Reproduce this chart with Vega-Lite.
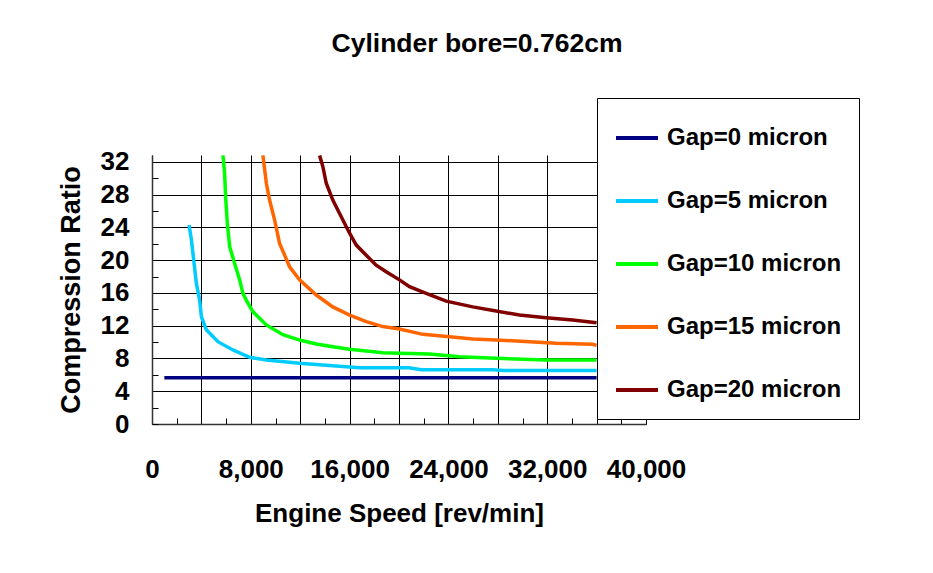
{
  "$schema": "https://vega.github.io/schema/vega-lite/v6.json",
  "autosize": {"type": "none"},
  "padding": {"left": 152, "top": 155, "right": 287, "bottom": 149},
  "width": 494,
  "height": 269,
  "background": "white",
  "title": {
    "text": "Cylinder bore=0.762cm",
    "font": "Liberation Sans",
    "fontSize": 26.5,
    "fontWeight": "bold",
    "color": "black",
    "frame": "group",
    "anchor": "middle",
    "dx": 78,
    "baseline": "alphabetic",
    "offset": 19
  },
  "config": {
    "view": {"stroke": null},
    "font": "Liberation Sans"
  },
  "data": {
    "values": [
      {"gap": "Gap=0 micron", "speed": 1000, "cr": 5.65},
      {"gap": "Gap=0 micron", "speed": 36000, "cr": 5.65},

      {"gap": "Gap=5 micron", "speed": 3000, "cr": 24.3},
      {"gap": "Gap=5 micron", "speed": 3190, "cr": 22.5},
      {"gap": "Gap=5 micron", "speed": 3590, "cr": 17.2},
      {"gap": "Gap=5 micron", "speed": 3860, "cr": 15.1},
      {"gap": "Gap=5 micron", "speed": 4000, "cr": 13.1},
      {"gap": "Gap=5 micron", "speed": 4400, "cr": 11.5},
      {"gap": "Gap=5 micron", "speed": 5340, "cr": 10.05},
      {"gap": "Gap=5 micron", "speed": 6550, "cr": 9.04},
      {"gap": "Gap=5 micron", "speed": 7900, "cr": 8.14},
      {"gap": "Gap=5 micron", "speed": 9260, "cr": 7.81},
      {"gap": "Gap=5 micron", "speed": 11950, "cr": 7.41},
      {"gap": "Gap=5 micron", "speed": 14640, "cr": 7.12},
      {"gap": "Gap=5 micron", "speed": 16800, "cr": 6.88},
      {"gap": "Gap=5 micron", "speed": 20800, "cr": 6.88},
      {"gap": "Gap=5 micron", "speed": 21800, "cr": 6.62},
      {"gap": "Gap=5 micron", "speed": 27600, "cr": 6.62},
      {"gap": "Gap=5 micron", "speed": 28500, "cr": 6.52},
      {"gap": "Gap=5 micron", "speed": 36000, "cr": 6.52},

      {"gap": "Gap=10 micron", "speed": 5745, "cr": 32.8},
      {"gap": "Gap=10 micron", "speed": 5880, "cr": 30.6},
      {"gap": "Gap=10 micron", "speed": 5960, "cr": 27.75},
      {"gap": "Gap=10 micron", "speed": 6100, "cr": 24.5},
      {"gap": "Gap=10 micron", "speed": 6290, "cr": 21.65},
      {"gap": "Gap=10 micron", "speed": 6690, "cr": 19.6},
      {"gap": "Gap=10 micron", "speed": 7100, "cr": 17.6},
      {"gap": "Gap=10 micron", "speed": 7360, "cr": 15.95},
      {"gap": "Gap=10 micron", "speed": 7640, "cr": 15.1},
      {"gap": "Gap=10 micron", "speed": 8180, "cr": 13.7},
      {"gap": "Gap=10 micron", "speed": 9260, "cr": 12.1},
      {"gap": "Gap=10 micron", "speed": 10600, "cr": 10.9},
      {"gap": "Gap=10 micron", "speed": 11950, "cr": 10.25},
      {"gap": "Gap=10 micron", "speed": 13300, "cr": 9.77},
      {"gap": "Gap=10 micron", "speed": 14640, "cr": 9.44},
      {"gap": "Gap=10 micron", "speed": 16000, "cr": 9.12},
      {"gap": "Gap=10 micron", "speed": 17350, "cr": 8.91},
      {"gap": "Gap=10 micron", "speed": 18700, "cr": 8.71},
      {"gap": "Gap=10 micron", "speed": 20040, "cr": 8.65},
      {"gap": "Gap=10 micron", "speed": 22470, "cr": 8.55},
      {"gap": "Gap=10 micron", "speed": 24900, "cr": 8.22},
      {"gap": "Gap=10 micron", "speed": 27860, "cr": 8.02},
      {"gap": "Gap=10 micron", "speed": 31900, "cr": 7.81},
      {"gap": "Gap=10 micron", "speed": 36000, "cr": 7.81},

      {"gap": "Gap=15 micron", "speed": 8980, "cr": 32.8},
      {"gap": "Gap=15 micron", "speed": 9260, "cr": 29.4},
      {"gap": "Gap=15 micron", "speed": 9520, "cr": 27.35},
      {"gap": "Gap=15 micron", "speed": 9930, "cr": 24.9},
      {"gap": "Gap=15 micron", "speed": 10330, "cr": 22.06},
      {"gap": "Gap=15 micron", "speed": 11140, "cr": 19.2},
      {"gap": "Gap=15 micron", "speed": 11950, "cr": 17.6},
      {"gap": "Gap=15 micron", "speed": 13300, "cr": 15.75},
      {"gap": "Gap=15 micron", "speed": 14640, "cr": 14.3},
      {"gap": "Gap=15 micron", "speed": 16000, "cr": 13.3},
      {"gap": "Gap=15 micron", "speed": 17350, "cr": 12.5},
      {"gap": "Gap=15 micron", "speed": 18690, "cr": 11.9},
      {"gap": "Gap=15 micron", "speed": 20040, "cr": 11.6},
      {"gap": "Gap=15 micron", "speed": 21930, "cr": 10.95},
      {"gap": "Gap=15 micron", "speed": 24090, "cr": 10.66},
      {"gap": "Gap=15 micron", "speed": 25970, "cr": 10.38},
      {"gap": "Gap=15 micron", "speed": 27860, "cr": 10.26},
      {"gap": "Gap=15 micron", "speed": 30560, "cr": 10.05},
      {"gap": "Gap=15 micron", "speed": 32720, "cr": 9.85},
      {"gap": "Gap=15 micron", "speed": 35680, "cr": 9.73},
      {"gap": "Gap=15 micron", "speed": 36000, "cr": 9.6},

      {"gap": "Gap=20 micron", "speed": 13570, "cr": 32.8},
      {"gap": "Gap=20 micron", "speed": 13840, "cr": 31.4},
      {"gap": "Gap=20 micron", "speed": 14110, "cr": 29.4},
      {"gap": "Gap=20 micron", "speed": 14640, "cr": 27.35},
      {"gap": "Gap=20 micron", "speed": 15190, "cr": 25.7},
      {"gap": "Gap=20 micron", "speed": 16000, "cr": 23.3},
      {"gap": "Gap=20 micron", "speed": 16540, "cr": 21.85},
      {"gap": "Gap=20 micron", "speed": 17350, "cr": 20.6},
      {"gap": "Gap=20 micron", "speed": 18150, "cr": 19.4},
      {"gap": "Gap=20 micron", "speed": 18960, "cr": 18.6},
      {"gap": "Gap=20 micron", "speed": 20040, "cr": 17.6},
      {"gap": "Gap=20 micron", "speed": 20850, "cr": 16.77},
      {"gap": "Gap=20 micron", "speed": 22200, "cr": 15.95},
      {"gap": "Gap=20 micron", "speed": 23820, "cr": 15.0},
      {"gap": "Gap=20 micron", "speed": 25970, "cr": 14.3},
      {"gap": "Gap=20 micron", "speed": 27860, "cr": 13.8},
      {"gap": "Gap=20 micron", "speed": 29750, "cr": 13.3},
      {"gap": "Gap=20 micron", "speed": 31910, "cr": 12.98},
      {"gap": "Gap=20 micron", "speed": 34060, "cr": 12.7},
      {"gap": "Gap=20 micron", "speed": 36000, "cr": 12.37}
    ]
  },
  "mark": {"type": "line", "strokeWidth": 3.5, "clip": true},
  "encoding": {
    "x": {
      "field": "speed",
      "type": "quantitative",
      "scale": {"domain": [0, 40000], "nice": false, "zero": true},
      "axis": {
        "title": "Engine Speed [rev/min]",
        "titleFont": "Liberation Sans",
        "titleFontSize": 26,
        "titleFontWeight": "bold",
        "titleColor": "black",
        "titlePadding": 18,
        "values": [0, 2000, 4000, 6000, 8000, 10000, 12000, 14000, 16000, 18000, 20000, 22000, 24000, 26000, 28000, 30000, 32000, 34000, 36000, 38000, 40000],
        "labelExpr": "datum.value % 8000 === 0 ? format(datum.value, ',') : ''",
        "labelFont": "Liberation Sans",
        "labelFontSize": 26,
        "labelFontWeight": "bold",
        "labelColor": "black",
        "labelPadding": 38,
        "labelFlush": false,
        "labelOverlap": false,
        "tickSize": -6,
        "tickColor": "black",
        "tickWidth": 1,
        "domainColor": "#333333",
        "domainWidth": 1.5,
        "grid": true,
        "gridColor": "black",
        "gridWidth": 1,
        "gridOpacity": {"condition": {"test": "datum.value % 4000 === 0", "value": 1}, "value": 0}
      }
    },
    "y": {
      "field": "cr",
      "type": "quantitative",
      "scale": {"domain": [0, 32.85], "nice": false, "zero": true},
      "axis": {
        "title": "Compression Ratio",
        "titleFont": "Liberation Sans",
        "titleFontSize": 27,
        "titleFontWeight": "bold",
        "titleColor": "black",
        "titlePadding": 15,
        "values": [0, 2, 4, 6, 8, 10, 12, 14, 16, 18, 20, 22, 24, 26, 28, 30, 32],
        "labelExpr": "datum.value % 4 === 0 ? format(datum.value, 'd') : ''",
        "labelFont": "Liberation Sans",
        "labelFontSize": 26,
        "labelFontWeight": "bold",
        "labelColor": "black",
        "labelPadding": 29,
        "labelFlush": false,
        "labelOverlap": false,
        "tickSize": -6,
        "tickColor": "black",
        "tickWidth": 1,
        "domainColor": "#333333",
        "domainWidth": 1.5,
        "grid": true,
        "gridColor": "black",
        "gridWidth": 1,
        "gridOpacity": {"condition": {"test": "datum.value % 4 === 0", "value": 1}, "value": 0}
      }
    },
    "color": {
      "field": "gap",
      "type": "nominal",
      "scale": {
        "domain": ["Gap=0 micron", "Gap=5 micron", "Gap=10 micron", "Gap=15 micron", "Gap=20 micron"],
        "range": ["#000080", "#00CCFF", "#00FF00", "#FF6600", "#800000"]
      },
      "legend": {
        "title": null,
        "orient": "none",
        "legendX": 445,
        "legendY": -57,
        "padding": 17,
        "fillColor": "white",
        "strokeColor": "black",
        "symbolType": "stroke",
        "symbolSize": 1764,
        "symbolStrokeWidth": 4,
        "labelFont": "Liberation Sans",
        "labelFontSize": 24,
        "labelFontWeight": "bold",
        "labelColor": "black",
        "labelOffset": 7,
        "rowPadding": 28,
        "labelLimit": 400
      }
    }
  }
}
